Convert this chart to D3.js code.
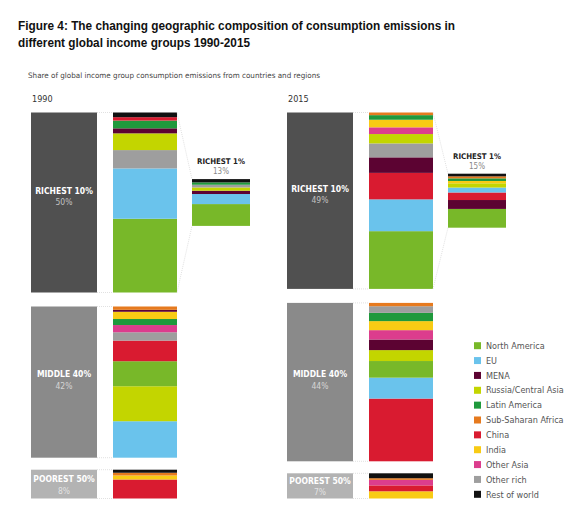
<!DOCTYPE html>
<html>
<head>
<meta charset="utf-8">
<script src="https://cdn.jsdelivr.net/npm/d3@7"></script>
<style>
  body { margin: 0; background: #fff; }
</style>
</head>
<body>
<div id="chart"></div>
<script>
// ---------------- data ----------------
const regions = ["North America", "EU", "MENA", "Russia/Central Asia", "Latin America",
  "Sub-Saharan Africa", "China", "India", "Other Asia", "Other rich", "Rest of world"];
const regionColors = ["#78b829", "#6ac3ec", "#5c0332", "#c3d500", "#1f993c",
  "#e67a1e", "#d91b30", "#f8cb14", "#dc3d8d", "#9e9e9e", "#111111"];

const years = ["1990", "2015"];
const groupNames = ["RICHEST 10%", "MIDDLE 40%", "POOREST 50%"];
const groupShares1990 = [50, 42, 8];
const groupShares2015 = [49, 44, 7];
const top1Label = "RICHEST 1%";
const top1Shares = [13, 15];

// composition of each group, listed bottom to top, share in %
const rich1990 = [["North America", 41], ["EU", 28], ["Other rich", 10.2], ["Russia/Central Asia", 9.3],
  ["MENA", 2.8], ["Latin America", 4.3], ["China", 1.9], ["Rest of world", 2.6]];
const middle1990 = [["EU", 24.2], ["Russia/Central Asia", 23.2], ["North America", 16.6], ["China", 13.7],
  ["Other rich", 5.5], ["Other Asia", 4.8], ["Latin America", 4], ["India", 4.8], ["MENA", 1.3],
  ["Sub-Saharan Africa", 2.2]];
const poor1990 = [["China", 66], ["India", 14], ["Sub-Saharan Africa", 9.4], ["Rest of world", 10.6]];
const top1_1990 = [["North America", 46.4], ["EU", 21.4], ["MENA", 7], ["Russia/Central Asia", 7],
  ["Other rich", 5.7], ["Latin America", 5], ["Rest of world", 7]];

const rich2015 = [["North America", 32.7], ["EU", 18], ["China", 15], ["MENA", 8.8], ["Other rich", 7.9],
  ["Russia/Central Asia", 5.3], ["Other Asia", 3.8], ["India", 4.3], ["Latin America", 2.6],
  ["Sub-Saharan Africa", 1.5]];
const middle2015 = [["China", 39.6], ["EU", 13.2], ["North America", 10.5], ["Russia/Central Asia", 6.9],
  ["MENA", 6.7], ["Other Asia", 5.9], ["India", 5.7], ["Latin America", 5.2], ["Other rich", 4.2],
  ["Sub-Saharan Africa", 2.1]];
const poor2015 = [["India", 28.6], ["China", 23.4], ["Other Asia", 22], ["Sub-Saharan Africa", 6.5],
  ["Rest of world", 19.5]];
const top1_2015 = [["North America", 34.8], ["MENA", 16.5], ["China", 14], ["EU", 9.1],
  ["Russia/Central Asia", 7.9], ["India", 4.3], ["Latin America", 4.9], ["Sub-Saharan Africa", 3.7],
  ["Rest of world", 4.9]];

// ---------------- layout ----------------
const width = 586;
const height = 515;
const condensed = "'DejaVu Sans Condensed', 'Liberation Sans Narrow', Roboto, sans-serif";

const svg = d3.select("#chart")
  .append("svg")
  .attr("width", width)
  .attr("height", height);

// one scale for all heights: share of global emissions -> pixels
const share = d3.scaleLinear().domain([0, 100]).range([0, 360]);
const color = d3.scaleOrdinal().domain(regions).range(regionColors);
const panelX = d3.scaleOrdinal().domain(years).range([31, 287]);

const groupFills = ["#505050", "#8a8a8a", "#b3b3b3"];
const groupGaps = [0, 14, 12];
const labelShift = [-6, -2, 1];
const panelTop = 112.5;
const groupW = 66, stackX = 82, stackW = 64, top1X = 161, top1W = 58;

// Title
const title = svg.append("g").attr("font-family", "'Liberation Sans', Arial, sans-serif")
  .attr("font-weight", "bold").attr("font-size", 13).attr("fill", "#111");
title.append("text").attr("x", 18).attr("y", 30)
  .attr("textLength", 437).attr("lengthAdjust", "spacingAndGlyphs")
  .text("Figure 4: The changing geographic composition of consumption emissions in");
title.append("text").attr("x", 18).attr("y", 47)
  .attr("textLength", 232).attr("lengthAdjust", "spacingAndGlyphs")
  .text("different global income groups 1990-2015");

svg.append("text")
  .attr("x", 28).attr("y", 78)
  .attr("font-family", condensed).attr("font-size", 7.5).attr("fill", "#444")
  .attr("textLength", 292).attr("lengthAdjust", "spacingAndGlyphs")
  .text("Share of global income group consumption emissions from countries and regions");

// draws a stacked composition bar between yTop and yBottom
function stackBar(g, x, w, yTop, yBottom, parts) {
  const vals = parts.map(d => d[1]);
  const cum = [0, ...d3.cumsum(vals)];
  const sy = d3.scaleLinear().domain([0, d3.sum(vals)]).range([yBottom, yTop]);
  g.selectAll(null)
    .data(parts)
    .enter()
    .append("rect")
    .attr("x", x)
    .attr("width", w)
    .attr("y", (d, i) => sy(cum[i + 1]))
    .attr("height", (d, i) => sy(cum[i]) - sy(cum[i + 1]))
    .attr("fill", d => color(d[0]));
}

function dotted(g, x1, y1, x2, y2) {
  g.append("line")
    .attr("x1", x1).attr("y1", y1).attr("x2", x2).attr("y2", y2)
    .attr("stroke", "#d4d4d4").attr("stroke-width", 0.7)
    .attr("stroke-dasharray", "1 1");
}

const panels = [
  { year: "1990", shares: groupShares1990, parts: [rich1990, middle1990, poor1990], top1: top1Shares[0], top1Parts: top1_1990 },
  { year: "2015", shares: groupShares2015, parts: [rich2015, middle2015, poor2015], top1: top1Shares[1], top1Parts: top1_2015 }
];

panels.forEach(p => {
  const x0 = panelX(p.year);
  const g = svg.append("g");

  g.append("text")
    .attr("x", x0 + 1).attr("y", 102)
    .attr("font-family", condensed).attr("font-size", 9).attr("fill", "#333")
    .text(p.year);

  let y = panelTop;
  const spans = [];
  p.shares.forEach((s, i) => {
    y += groupGaps[i];
    const h = share(s);
    spans.push([y, y + h]);

    g.append("rect")
      .attr("x", x0).attr("y", y)
      .attr("width", groupW).attr("height", h)
      .attr("fill", groupFills[i]);

    const cy = y + h / 2 + labelShift[i];
    g.append("text")
      .attr("x", x0 + groupW / 2).attr("y", cy - 3)
      .attr("text-anchor", "middle")
      .attr("font-family", condensed).attr("font-weight", "bold")
      .attr("font-size", 8.5).attr("fill", "#fff")
      .text(groupNames[i]);
    g.append("text")
      .attr("x", x0 + groupW / 2).attr("y", cy + 8.5)
      .attr("text-anchor", "middle")
      .attr("font-family", condensed)
      .attr("font-size", 8.5).attr("fill", "rgba(255,255,255,0.65)")
      .text(s + "%");

    dotted(g, x0 + groupW, y, x0 + stackX, y);
    dotted(g, x0 + groupW, y + h, x0 + stackX, y + h);

    stackBar(g, x0 + stackX, stackW, y, y + h, p.parts[i]);
    y += h;
  });

  // richest 1% bar, centred on the richest 10% bar
  const [rTop, rBot] = spans[0];
  const h1 = share(p.top1);
  const t1 = (rTop + rBot) / 2 - h1 / 2;
  dotted(g, x0 + stackX + stackW, rTop, x0 + top1X, t1);
  dotted(g, x0 + stackX + stackW, rBot, x0 + top1X, t1 + h1);
  stackBar(g, x0 + top1X, top1W, t1, t1 + h1, p.top1Parts);

  g.append("text")
    .attr("x", x0 + top1X + top1W / 2).attr("y", t1 - 15)
    .attr("text-anchor", "middle")
    .attr("font-family", condensed).attr("font-weight", "bold")
    .attr("font-size", 7.8).attr("fill", "#222")
    .text(top1Label);
  g.append("text")
    .attr("x", x0 + top1X + top1W / 2).attr("y", t1 - 5)
    .attr("text-anchor", "middle")
    .attr("font-family", condensed)
    .attr("font-size", 8).attr("fill", "#888")
    .text(p.top1 + "%");
});

// Legend
const legendY = d3.scalePoint().domain(regions).range([345.7, 494.3]);
const legend = svg.append("g");
legend.selectAll("rect")
  .data(regions)
  .enter()
  .append("rect")
  .attr("x", 474).attr("y", d => legendY(d) - 3.5)
  .attr("width", 7).attr("height", 7)
  .attr("fill", d => color(d));
legend.selectAll("text")
  .data(regions)
  .enter()
  .append("text")
  .attr("x", 486).attr("y", d => legendY(d) + 3.2)
  .attr("font-family", condensed).attr("font-size", 9).attr("fill", "#555")
  .text(d => d);
</script>
</body>
</html>
